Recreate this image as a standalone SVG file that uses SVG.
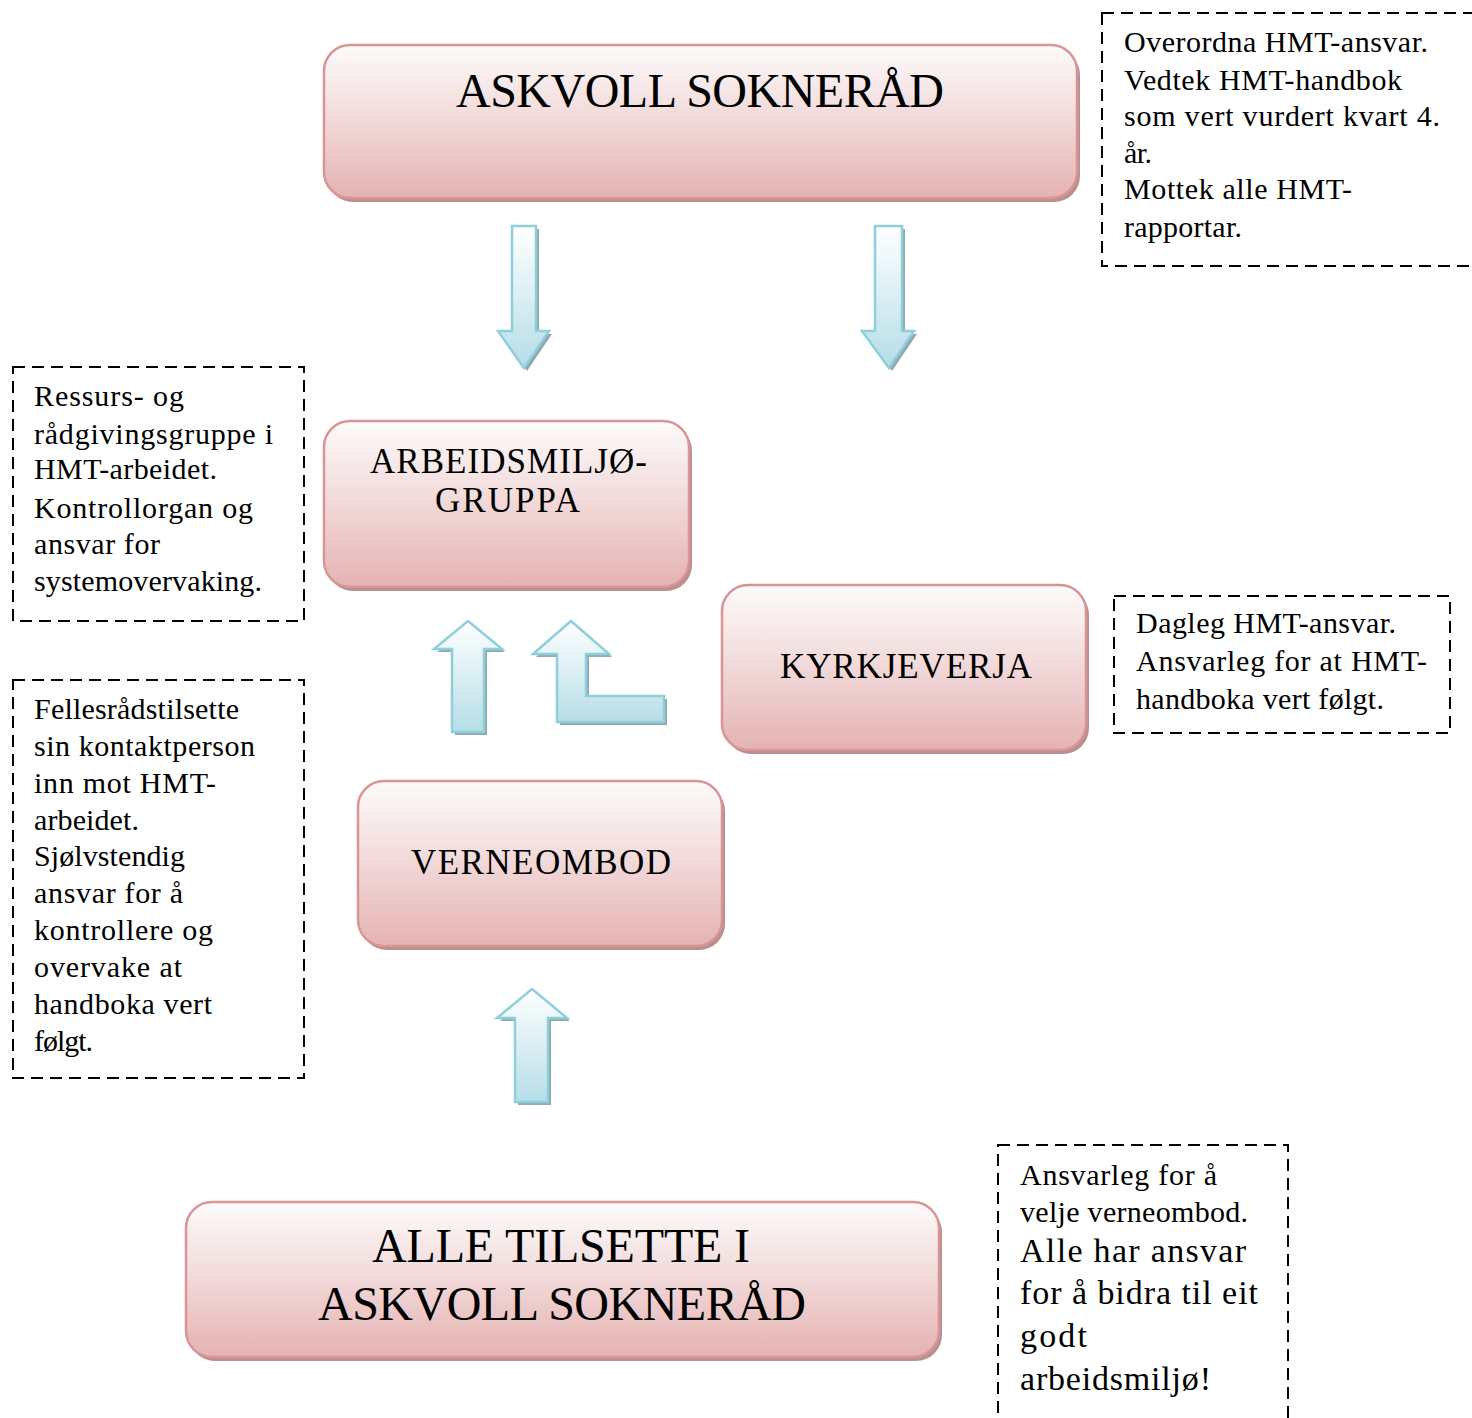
<svg xmlns="http://www.w3.org/2000/svg" width="1472" height="1418" viewBox="0 0 1472 1418">
<defs>
<linearGradient id="pink" x1="0" y1="0" x2="0" y2="1">
<stop offset="0" stop-color="#fdfbfb"/>
<stop offset="0.5" stop-color="#f1d8d8"/>
<stop offset="1" stop-color="#e5b2b2"/>
</linearGradient>
<linearGradient id="blue" x1="0" y1="0" x2="0" y2="1">
<stop offset="0" stop-color="#ffffff"/>
<stop offset="1" stop-color="#b5dde7"/>
</linearGradient>
<style>
.node{fill:url(#pink);stroke:#d99595;stroke-width:2.5}
.nshadow{fill:#b89090}
.arr{fill:url(#blue);stroke:#8fcfdc;stroke-width:2.5;stroke-linejoin:miter}
.ashadow{fill:#8fa9b0}
.dash{fill:none;stroke:#000;stroke-width:2;stroke-dasharray:12 7}
.t{font-family:"Liberation Serif","Times New Roman",serif;fill:#000}
.big{font-size:48px}
.mid{font-size:35px}
.note{font-size:30px}
.note2{font-size:34px}
</style>
</defs>

<g id="connectors">
<g id="arrow-down-1">
<path class="ashadow" d="M515 229 H539 V334 H552 L527 371 L501 334 H515 Z"/>
<path class="arr" d="M512 226 H536 V331 H549 L524 368 L498 331 H512 Z"/>
</g>
<g id="arrow-down-2">
<path class="ashadow" d="M878 229 H905 V334 H917 L892 371 L865 334 H878 Z"/>
<path class="arr" d="M875 226 H902 V331 H914 L889 368 L862 331 H875 Z"/>
</g>
<g id="arrow-up-1">
<path class="ashadow" d="M471 624 L505 652 H487 V735 H455 V652 H437 Z"/>
<path class="arr" d="M468 621 L502 649 H484 V732 H452 V649 H434 Z"/>
</g>
<g id="arrow-bent">
<path class="ashadow" d="M574 624 L612 657 H589 V699 H667 V725 H560 V657 H536 Z"/>
<path class="arr" d="M571 621 L609 654 H586 V696 H664 V722 H557 V654 H533 Z"/>
</g>
<g id="arrow-up-2">
<path class="ashadow" d="M535 992 L570 1021 H551 V1105 H518 V1021 H500 Z"/>
<path class="arr" d="M532 989 L567 1018 H548 V1102 H515 V1018 H497 Z"/>
</g>
</g>

<g id="node-askvoll">
<rect class="nshadow" x="327" y="49" width="753" height="153" rx="26"/>
<rect class="node" x="324" y="45" width="753" height="153" rx="26"/>
<text class="t big" x="456" y="107" textLength="488" lengthAdjust="spacing">ASKVOLL SOKNERÅD</text>
</g>

<g id="node-arbeidsmiljo">
<rect class="nshadow" x="327" y="425" width="365" height="166" rx="26"/>
<rect class="node" x="324" y="421" width="365" height="166" rx="26"/>
<text class="t mid" x="370" y="473" textLength="277" lengthAdjust="spacing">ARBEIDSMILJØ-</text>
<text class="t mid" x="435" y="512" textLength="145" lengthAdjust="spacing">GRUPPA</text>
</g>

<g id="node-kyrkjeverja">
<rect class="nshadow" x="725" y="589" width="364" height="165" rx="26"/>
<rect class="node" x="722" y="585" width="364" height="165" rx="26"/>
<text class="t mid" x="780" y="678" textLength="252" lengthAdjust="spacing">KYRKJEVERJA</text>
</g>

<g id="node-verneombod">
<rect class="nshadow" x="361" y="785" width="364" height="165" rx="26"/>
<rect class="node" x="358" y="781" width="364" height="165" rx="26"/>
<text class="t mid" x="411" y="874" textLength="260" lengthAdjust="spacing">VERNEOMBOD</text>
</g>

<g id="node-alle">
<rect class="nshadow" x="189" y="1206" width="753" height="155" rx="26"/>
<rect class="node" x="186" y="1202" width="753" height="155" rx="26"/>
<text class="t big" x="372" y="1262" textLength="378" lengthAdjust="spacing">ALLE TILSETTE I</text>
<text class="t big" x="318" y="1320" textLength="488" lengthAdjust="spacing">ASKVOLL SOKNERÅD</text>
</g>

<g id="note-top-right">
<rect class="dash" x="1102" y="13" width="380" height="253"/>
<text class="t note" x="1124" y="52" textLength="304" lengthAdjust="spacing">Overordna HMT-ansvar.</text>
<text class="t note" x="1124" y="90" textLength="278" lengthAdjust="spacing">Vedtek HMT-handbok</text>
<text class="t note" x="1124" y="126" textLength="316" lengthAdjust="spacing">som vert vurdert kvart 4.</text>
<text class="t note" x="1124" y="163" textLength="28" lengthAdjust="spacing">år.</text>
<text class="t note" x="1124" y="199" textLength="228" lengthAdjust="spacing">Mottek alle HMT-</text>
<text class="t note" x="1124" y="237" textLength="118" lengthAdjust="spacing">rapportar.</text>
</g>

<g id="note-left-1">
<rect class="dash" x="13" y="367" width="291" height="254"/>
<text class="t note" x="34" y="406" textLength="150" lengthAdjust="spacing">Ressurs- og</text>
<text class="t note" x="34" y="444" textLength="239" lengthAdjust="spacing">rådgivingsgruppe i</text>
<text class="t note" x="34" y="479" textLength="183" lengthAdjust="spacing">HMT-arbeidet.</text>
<text class="t note" x="34" y="518" textLength="219" lengthAdjust="spacing">Kontrollorgan og</text>
<text class="t note" x="34" y="554" textLength="126" lengthAdjust="spacing">ansvar for</text>
<text class="t note" x="34" y="591" textLength="228" lengthAdjust="spacing">systemovervaking.</text>
</g>

<g id="note-left-2">
<rect class="dash" x="13" y="680" width="291" height="398"/>
<text class="t note" x="34" y="719" textLength="205" lengthAdjust="spacing">Fellesrådstilsette</text>
<text class="t note" x="34" y="756" textLength="221" lengthAdjust="spacing">sin kontaktperson</text>
<text class="t note" x="34" y="793" textLength="182" lengthAdjust="spacing">inn mot HMT-</text>
<text class="t note" x="34" y="830" textLength="105" lengthAdjust="spacing">arbeidet.</text>
<text class="t note" x="34" y="866" textLength="151" lengthAdjust="spacing">Sjølvstendig</text>
<text class="t note" x="34" y="903" textLength="149" lengthAdjust="spacing">ansvar for å</text>
<text class="t note" x="34" y="940" textLength="179" lengthAdjust="spacing">kontrollere og</text>
<text class="t note" x="34" y="977" textLength="148" lengthAdjust="spacing">overvake at</text>
<text class="t note" x="34" y="1014" textLength="178" lengthAdjust="spacing">handboka vert</text>
<text class="t note" x="34" y="1051" textLength="59" lengthAdjust="spacing">følgt.</text>
</g>

<g id="note-right-mid">
<rect class="dash" x="1114" y="596" width="336" height="137"/>
<text class="t note" x="1136" y="633" textLength="260" lengthAdjust="spacing">Dagleg HMT-ansvar.</text>
<text class="t note" x="1136" y="671" textLength="291" lengthAdjust="spacing">Ansvarleg for at HMT-</text>
<text class="t note" x="1136" y="709" textLength="248" lengthAdjust="spacing">handboka vert følgt.</text>
</g>

<g id="note-bottom-right">
<rect class="dash" x="998" y="1145" width="290" height="300"/>
<text class="t note" x="1020" y="1185" textLength="197" lengthAdjust="spacing">Ansvarleg for å</text>
<text class="t note" x="1020" y="1222" textLength="228" lengthAdjust="spacing">velje verneombod.</text>
<text class="t note2" x="1020" y="1262" textLength="226" lengthAdjust="spacing">Alle har ansvar</text>
<text class="t note2" x="1020" y="1304" textLength="238" lengthAdjust="spacing">for å bidra til eit</text>
<text class="t note2" x="1020" y="1347" textLength="67" lengthAdjust="spacing">godt</text>
<text class="t note2" x="1020" y="1390" textLength="191" lengthAdjust="spacing">arbeidsmiljø!</text>
</g>
</svg>
